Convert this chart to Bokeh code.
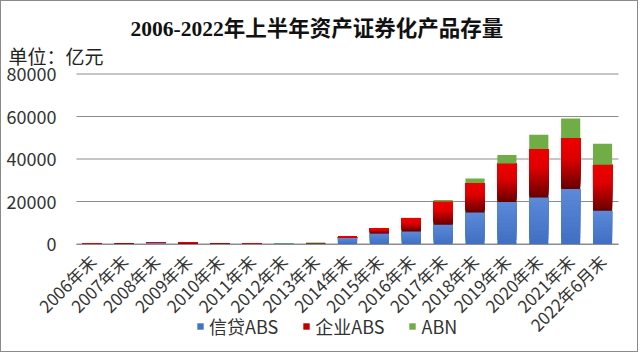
from math import pi
from bokeh.plotting import figure
from bokeh.models import (ColumnDataSource, Range1d, Legend, LegendItem, Label, FixedTicker)
from bokeh.embed import file_html
from bokeh.resources import INLINE

# ---------------- data (亿元) ----------------
categories = ["2006年末", "2007年末", "2008年末", "2009年末", "2010年末", "2011年末",
              "2012年末", "2013年末", "2014年末", "2015年末", "2016年末", "2017年末",
              "2018年末", "2019年末", "2020年末", "2021年末", "2022年6月末"]
credit_abs = [115, 178, 420, 270, 100, 60, 250, 280, 2800, 5000, 5930, 9080,
              14870, 19760, 21930, 25880, 15670]
corp_abs = [180, 220, 280, 400, 150, 120, 30, 80, 600, 2500, 6300, 10970,
            13830, 18170, 22770, 24000, 21650]
abn = [0, 0, 0, 0, 0, 0, 150, 300, 50, 80, 120, 650,
       2170, 3950, 6730, 9220, 9880]
series_names = ["信贷ABS", "企业ABS", "ABN"]
y_ticks = [0, 20000, 40000, 60000, 80000]
title_text = "2006-2022年上半年资产证券化产品存量"
unit_text = "单位：亿元"

# ---------------- styles ----------------
BLUE_BOT, BLUE_TOP = (0x40, 0x6f, 0xc3), (0x5c, 0x89, 0xd8)
RED_BOT, RED_MID, RED_TOP = (0x66, 0x00, 0x00), (0xde, 0x00, 0x00), (0xee, 0x00, 0x00)
GREEN = "#70ad47"
GRID = "#8c8c8c"
CJK = "'Noto Sans CJK SC', 'Noto Sans', sans-serif"

# layout (canvas pixels); the plot frame fills the whole canvas
W, H = 638, 352
PLOT_LEFT, PLOT_RIGHT = 75, 617          # x extent of the category band
TOP_GRID_Y, ZERO_Y = 72.5, 242.5         # y of the 80000 and 0 lines
n = len(categories)
px_per_cat = (PLOT_RIGHT - PLOT_LEFT) / n
x_start = -PLOT_LEFT / px_per_cat
x_end = n + (W - PLOT_RIGHT) / px_per_cat
px_per_unit = (ZERO_Y - TOP_GRID_Y) / y_ticks[-1]
y_end = y_ticks[-1] + TOP_GRID_Y / px_per_unit
y_start = -(H - ZERO_Y) / px_per_unit


def lerp(c1, c2, t):
    return "#%02x%02x%02x" % tuple(int(round(a + (b - a) * t)) for a, b in zip(c1, c2))


def red_at(t):
    if t < 0.6:
        return lerp(RED_BOT, RED_MID, t / 0.6)
    return lerp(RED_MID, RED_TOP, (t - 0.6) / 0.4)


centers = [i + 0.5 for i in range(n)]

# Each slice spans from its own bottom to the segment top; later slices paint over
# earlier ones, giving a seamless vertical gradient.
NB, NR = 10, 30
xs, bottoms, tops, colors = [], [], [], []
legend_index = {}
for xc, b, r, g in zip(centers, credit_abs, corp_abs, abn):
    for k in range(NB):
        if k == 1 and series_names[0] not in legend_index:
            legend_index[series_names[0]] = len(xs)
        xs.append(xc); bottoms.append(b * k / NB); tops.append(b)
        colors.append(lerp(BLUE_BOT, BLUE_TOP, (k + 0.5) / NB))
    for k in range(NR):
        if k == 13 and series_names[1] not in legend_index:
            legend_index[series_names[1]] = len(xs)
        xs.append(xc); bottoms.append(b + r * k / NR); tops.append(b + r)
        colors.append(red_at((k + 0.5) / NR))
    if g > 0:
        if series_names[2] not in legend_index:
            legend_index[series_names[2]] = len(xs)
        xs.append(xc); bottoms.append(b + r); tops.append(b + r + g)
        colors.append(GREEN)

src = ColumnDataSource(dict(x=xs, bottom=bottoms, top=tops, color=colors))

p = figure(width=W, height=H, output_backend="svg", toolbar_location=None, title=None,
           x_range=Range1d(x_start, x_end), y_range=Range1d(y_start, y_end),
           min_border_left=0, min_border_right=0, min_border_top=0, min_border_bottom=0,
           styles={"border": "1px solid #8a8a8a"})
p.outline_line_color = None
p.background_fill_color = "white"
p.border_fill_color = "white"
p.xgrid.visible = False
p.ygrid.visible = False

# horizontal gridlines across the category band
p.segment(x0=[0] * len(y_ticks), x1=[n] * len(y_ticks), y0=y_ticks, y1=y_ticks,
          line_color=GRID, line_width=1)

bars = p.vbar(x="x", bottom="bottom", top="top", width=0.6, source=src,
              fill_color="color", line_color=None)

# y axis at the left edge of the category band
p.yaxis.fixed_location = 0
p.yaxis.ticker = FixedTicker(ticks=y_ticks, minor_ticks=[])
p.yaxis.axis_line_color = None
p.yaxis.major_tick_line_color = None
p.yaxis.minor_tick_line_color = None
p.yaxis.major_label_text_font = CJK
p.yaxis.major_label_text_font_size = "18px"
p.yaxis.major_label_text_color = "#333333"
p.yaxis.major_label_standoff = 14

# x axis drawn at value 0
p.xaxis.fixed_location = 0
p.xaxis.bounds = (0, n)
p.xaxis.ticker = FixedTicker(ticks=centers, minor_ticks=[])
p.xaxis.major_label_overrides = {c: lab for c, lab in zip(centers, categories)}
p.xaxis.axis_line_color = GRID
p.xaxis.major_tick_line_color = None
p.xaxis.minor_tick_line_color = None
p.xaxis.major_label_orientation = pi / 4
p.xaxis.major_label_text_font = CJK
p.xaxis.major_label_text_font_size = "17px"
p.xaxis.major_label_text_color = "#333333"
p.xaxis.major_label_standoff = 8

# legend
items = [LegendItem(label=name, renderers=[bars], index=legend_index[name])
         for name in series_names]
legend = Legend(items=items, orientation="horizontal", location=(195, 14),
                glyph_width=8, glyph_height=8, label_standoff=5, spacing=24,
                padding=0, margin=0, border_line_color=None, background_fill_alpha=0,
                label_text_font=CJK, label_text_font_size="18px",
                label_text_color="#333333")
p.add_layout(legend, "center")

# title and unit note
p.add_layout(Label(x=129, y=H - 27, x_units="screen", y_units="screen", text=title_text,
                   text_align="left", text_baseline="middle",
                   text_font="'Liberation Serif', 'Noto Sans CJK SC', serif",
                   text_font_size="21.5px", text_font_style="bold", text_color="#111111"))
p.add_layout(Label(x=7, y=H - 54, x_units="screen", y_units="screen", text=unit_text,
                   text_align="left", text_baseline="middle",
                   text_font=CJK, text_font_size="19px", text_color="#222222"))

open("out.html", "w").write(file_html(p, INLINE))
